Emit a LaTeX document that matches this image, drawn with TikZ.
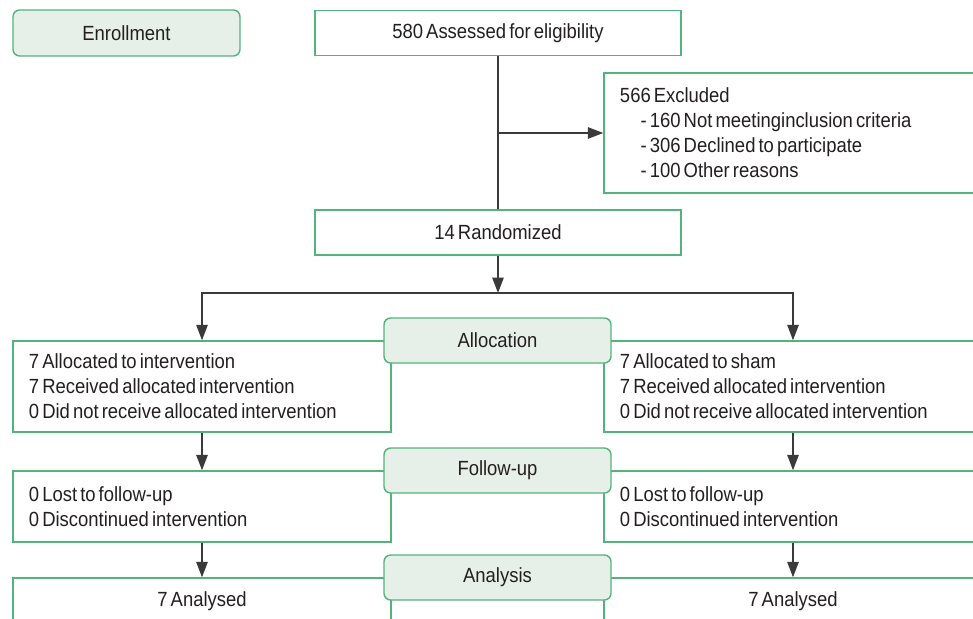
\documentclass[tikz,border=0pt]{standalone}
\usepackage{fontspec}
\setmainfont{Liberation Sans}[FakeStretch=0.9,WordSpace=0.6]
\usetikzlibrary{arrows.meta}
\definecolor{boxgreen}{HTML}{52B47C}
\definecolor{tagfill}{HTML}{E6F0E8}
\definecolor{lineink}{HTML}{3A3A3A}
\definecolor{textink}{HTML}{231F20}

\begin{document}
\begin{tikzpicture}[
  x=0.03cm,y=-0.03cm,
  line width=1.2pt,
  >={Triangle[length=0.46cm,width=0.34cm]},
  every node/.style={font=\fontsize{17.5}{21.3}\selectfont,text=textink},
  box/.style={draw=boxgreen,fill=white,inner sep=0pt},
  tag/.style={draw=boxgreen,fill=tagfill,rounded corners=0.2cm,
    minimum width=6.81cm,minimum height=1.35cm,inner sep=0pt},
  wide/.style={box,minimum width=10.98cm,minimum height=1.35cm},
  arm/.style={box,minimum width=11.34cm,text width=10.38cm,align=flush left},
  link/.style={draw=lineink}
]
\clip (0,0) rectangle (973,619);

% Top row
\node[tag,minimum height=1.38cm] (enroll) at (126.5,33) {Enrollment};
\node[wide] (assess) at (498,33) {580 Assessed for eligibility};
\node[arm,minimum height=3.6cm] (excl) at (793,133)
  {566 Excluded\\
   \hspace*{0.62cm}- 160 Not meetinginclusion criteria\\
   \hspace*{0.62cm}- 306 Declined to participate\\
   \hspace*{0.62cm}- 100 Other reasons};
\node[wide] (rand) at (498,232.5) {14 Randomized};

% Two arms
\node[arm,minimum height=2.73cm] (allocL) at (202,386.5)
  {7 Allocated to intervention\\
   7 Received allocated intervention\\
   0 Did not receive allocated intervention};
\node[arm,minimum height=2.73cm] (allocR) at (793,386.5)
  {7 Allocated to sham\\
   7 Received allocated intervention\\
   0 Did not receive allocated intervention};
\node[arm,minimum height=2.13cm] (followL) at (202,506.5)
  {0 Lost to follow-up\\
   0 Discontinued intervention};
\node[arm,minimum height=2.13cm] (followR) at (793,506.5)
  {0 Lost to follow-up\\
   0 Discontinued intervention};
\node[box,minimum width=11.34cm,minimum height=1.38cm] (anaL) at (202,601)
  {7 Analysed};
\node[box,minimum width=11.34cm,minimum height=1.38cm] (anaR) at (793,601)
  {7 Analysed};

% Stage tags sit over the box edges
\node[tag] (alloc) at (497.5,340.5) {Allocation};
\node[tag] (follow) at (497.5,470.5) {Follow-up};
\node[tag] (analysis) at (497.5,577.5) {Analysis};

% Connectors
\coordinate (branch) at (498,133);
\coordinate (split) at (498,293);
\draw[link] (assess.south) -- (rand.north);
\draw[link,->] (branch) -- (excl.west);
\draw[link,->] (rand.south) -- (split);
\draw[link,->] (split) -| (allocL.north);
\draw[link,->] (split) -| (allocR.north);
\draw[link,->] (allocL.south) -- (followL.north);
\draw[link,->] (allocR.south) -- (followR.north);
\draw[link,->] (followL.south) -- (anaL.north);
\draw[link,->] (followR.south) -- (anaR.north);

\end{tikzpicture}
\end{document}
